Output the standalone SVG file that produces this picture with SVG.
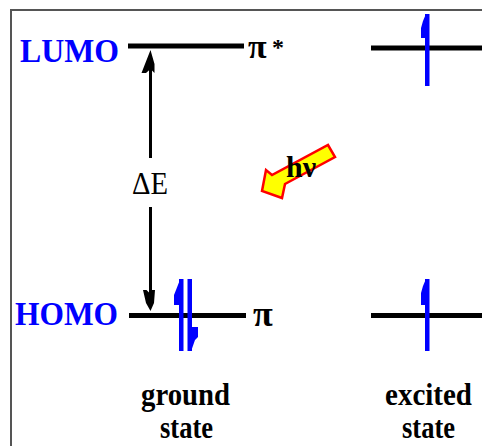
<svg xmlns="http://www.w3.org/2000/svg" width="482" height="446" viewBox="0 0 482 446">
<style>
.lvl{stroke:#000;stroke-width:5;fill:none}
.e{fill:#0000ff}
.orb{font-family:"Liberation Serif","Times New Roman",serif;font-weight:bold;font-size:33px;fill:#0000ff}
.lab{font-family:"Liberation Serif","Times New Roman",serif;font-weight:bold;font-size:31px;fill:#000}
.sym{font-family:"Liberation Serif","Times New Roman",serif;font-weight:bold;fill:#000}
</style>
<rect width="482" height="446" fill="#fff"/>
<path id="frame" d="M11,446 V10 H482" fill="none" stroke="#555" stroke-width="2"/>

<g id="lumo-ground">
  <line class="lvl" x1="128" y1="46" x2="244" y2="46"/>
  <text class="orb" x="20" y="62" textLength="99" lengthAdjust="spacingAndGlyphs">LUMO</text>
  <text class="sym" x="248" y="58" font-size="34">π</text>
  <text class="sym" x="272" y="55" font-size="24">*</text>
</g>

<g id="homo-ground">
  <line class="lvl" x1="129" y1="315.5" x2="246" y2="315.5"/>
  <text class="orb" x="15" y="325" textLength="103" lengthAdjust="spacingAndGlyphs">HOMO</text>
  <text class="sym" x="253" y="326" font-size="36">π</text>
  <rect class="e" x="179" y="279" width="4.5" height="72"/>
  <polygon class="e" points="179.5,281 176,290 174,295 174,305 179.5,305"/>
  <rect class="e" x="187.5" y="279" width="4.5" height="72"/>
  <polygon class="e" points="191.5,327 198,327 198,337 195,340 191.5,350"/>
</g>

<g id="lumo-excited">
  <line class="lvl" x1="371" y1="48" x2="482" y2="48"/>
  <rect class="e" x="425" y="14" width="4.5" height="72"/>
  <polygon class="e" points="425.5,15 423,21 421,28 421,38 425.5,38"/>
</g>

<g id="homo-excited">
  <line class="lvl" x1="371" y1="315.5" x2="482" y2="315.5"/>
  <rect class="e" x="425" y="279" width="4.5" height="72"/>
  <polygon class="e" points="425.5,280 423,286 421,293 421,305 425.5,305"/>
</g>

<g id="connectors">
  <line x1="150.5" y1="60" x2="150.5" y2="158" stroke="#000" stroke-width="3"/>
  <line x1="150.5" y1="207" x2="150.5" y2="300" stroke="#000" stroke-width="3"/>
  <polygon points="150.5,50 154.5,64 154.5,73 150.5,69 146,73 141.5,73 145,64" fill="#000"/>
  <polygon points="143,290 146.5,290 150.5,294 152,290 155,290 154,303 150.5,311 146,303" fill="#000"/>
  <text x="132" y="194" font-family="Liberation Serif,'Times New Roman',serif" font-size="32" textLength="36" lengthAdjust="spacingAndGlyphs" fill="#000">ΔE</text>
</g>

<g id="photon">
  <polygon points="262,191 266,170 272,175 328,145 335,157 285,184 282,198" fill="#ffff00" stroke="#ff0000" stroke-width="2.5" stroke-linejoin="miter"/>
  <text class="sym" x="286" y="177" font-size="30" textLength="30" lengthAdjust="spacingAndGlyphs">hν</text>
</g>

<g id="captions">
  <text class="lab" x="141" y="405" textLength="89" lengthAdjust="spacingAndGlyphs">ground</text>
  <text class="lab" x="160" y="438" textLength="53" lengthAdjust="spacingAndGlyphs">state</text>
  <text class="lab" x="385" y="405" textLength="87" lengthAdjust="spacingAndGlyphs">excited</text>
  <text class="lab" x="402" y="438" textLength="53" lengthAdjust="spacingAndGlyphs">state</text>
</g>
</svg>
